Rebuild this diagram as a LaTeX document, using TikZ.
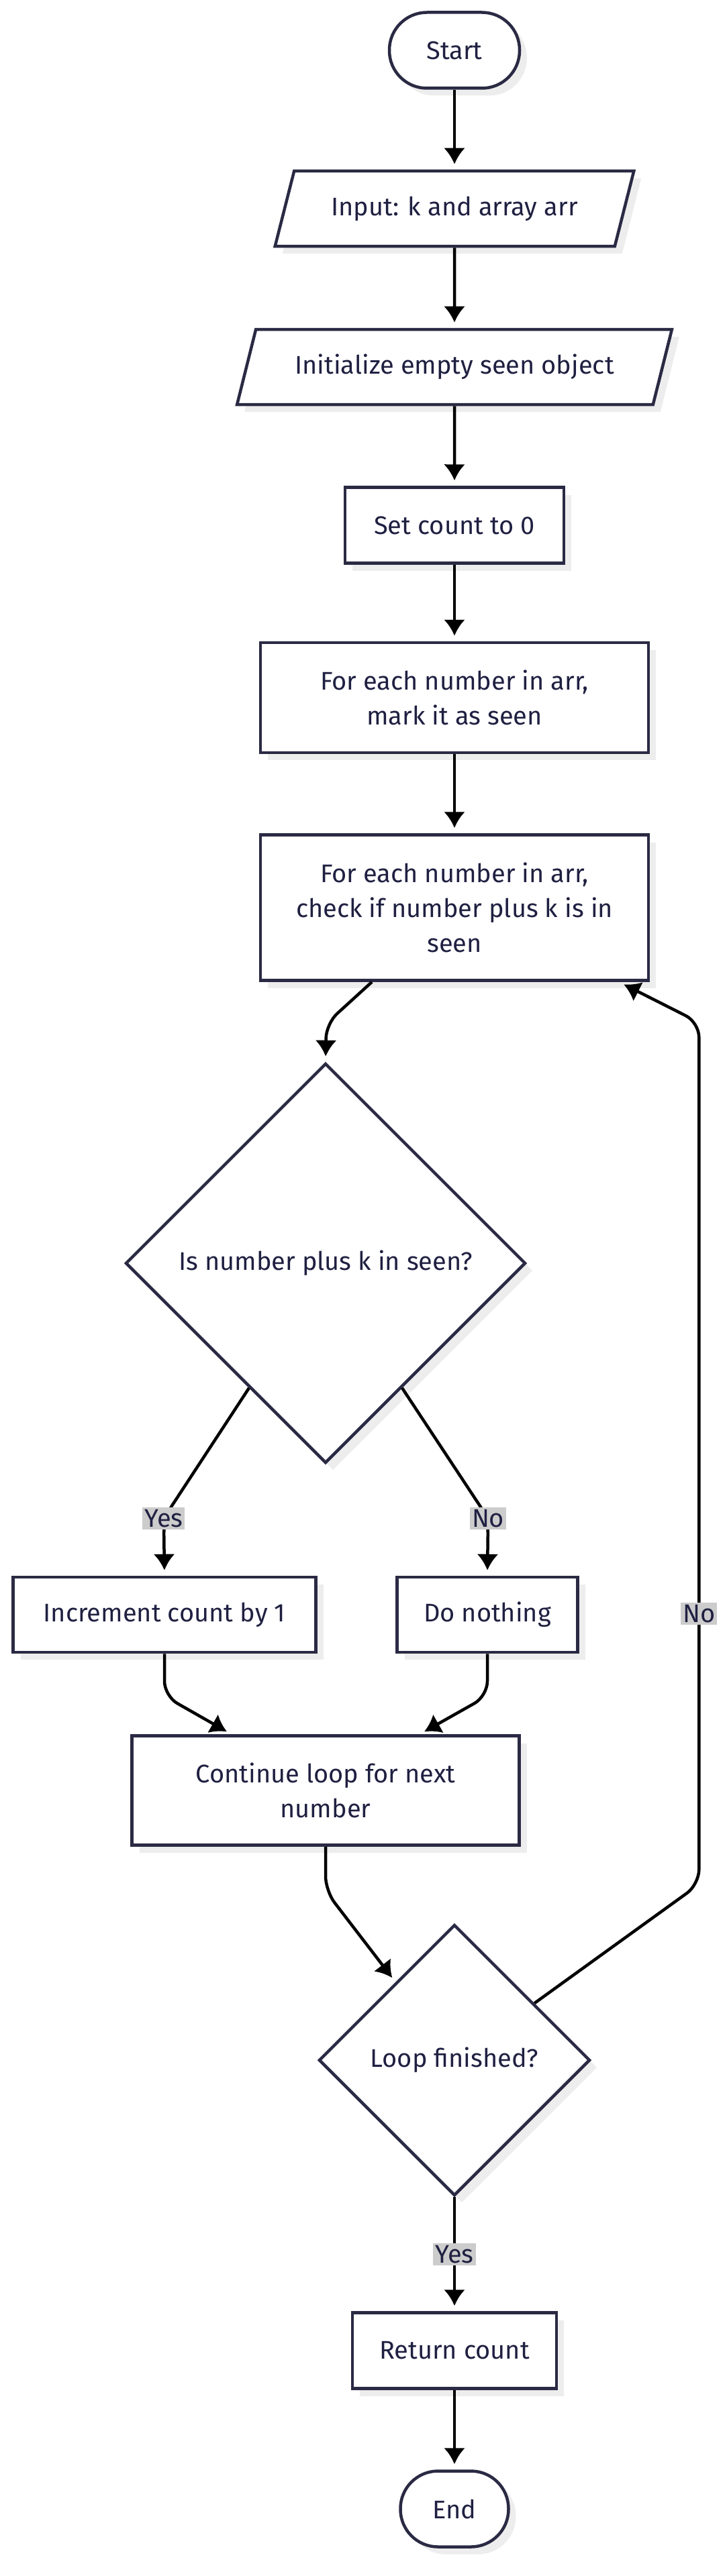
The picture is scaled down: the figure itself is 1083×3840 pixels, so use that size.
\documentclass[tikz,border=0pt]{standalone}
\usepackage{fontspec}
\setmainfont{Fira Sans}
\usepackage{xcolor}
\usetikzlibrary{arrows.meta}
\usetikzlibrary{shapes,positioning,calc,shadows}
\definecolor{nodeline}{HTML}{2A2A44}
\definecolor{nodetext}{HTML}{1F2041}
\definecolor{lblfill}{HTML}{CCCCCC}

\begin{document}
\begin{tikzpicture}[x=1pt, y=-1pt, >={Latex[length=24pt,width=32pt]},
		every node/.style={font=\fontsize{38}{52}\selectfont, text=nodetext},
		base/.style={draw=nodeline, line width=4.5pt, fill=white, align=center, inner sep=4pt,
			drop shadow={shadow xshift=11pt, shadow yshift=-11pt, fill=black!7, opacity=1}},
		terminal/.style={base, rectangle, rounded corners=56pt, minimum height=113pt},
		io/.style={base, trapezium, trapezium left angle=63.4, trapezium right angle=116.6,
			trapezium stretches=true, minimum height=112pt},
		process/.style={base, rectangle},
		decision/.style={base, diamond, aspect=1},
		flow/.style={->, line width=4.5pt, rounded corners=22pt, shorten >=8pt},
		lbl/.style={fill=lblfill, sharp corners, inner sep=3pt}]
	\useasboundingbox (0,0) rectangle (1083,3840);

	\node[terminal, minimum width=194pt] (start) at (677,75) {Start};
	\node[io, minimum width=538pt] (input) at (677,311) {Input: k and array arr};
	\node[io, minimum width=652pt] (init) at (677,547) {Initialize empty seen object};
	\node[process, minimum width=326pt, minimum height=113pt] (setcount) at (677,783) {Set count to 0};
	\node[process, minimum width=578pt, minimum height=164pt] (mark) at (677,1040) {For each number in arr,\\ mark it as seen};
	\node[process, minimum width=578pt, minimum height=217pt] (check) at (677,1353) {For each number in arr,\\ check if number plus k is in\\ seen};
	\node[decision, minimum width=596pt, minimum height=596pt] (inseen) at (485,1883) {Is number plus k in seen?};
	\node[process, minimum width=451pt, minimum height=112pt] (incr) at (245,2407) {Increment count by 1};
	\node[process, minimum width=269pt, minimum height=112pt] (nothing) at (726,2407) {Do nothing};
	\node[process, minimum width=577pt, minimum height=163pt] (next) at (485,2669) {Continue loop for next\\ number};
	\node[decision, minimum width=404pt, minimum height=404pt] (finished) at (677,3071) {Loop finished?};
	\node[process, minimum width=304pt, minimum height=113pt] (ret) at (677,3504) {Return count};
	\node[terminal, minimum width=161pt] (end) at (677,3740) {End};

	\draw[flow] (start) -- (input);
	\draw[flow] (input) -- (init);
	\draw[flow] (init) -- (setcount);
	\draw[flow] (setcount) -- (mark);
	\draw[flow] (mark) -- (check);
	\draw[flow] ([xshift=-123pt]check.south) -- ++(-68,62) -- (inseen.north);
	\draw[flow] ($(inseen.west)!0.62!(inseen.south)$) -- ++(-127,194) node[lbl] {Yes} -- (incr.north);
	\draw[flow] ($(inseen.east)!0.62!(inseen.south)$) -- ++(128,194) node[lbl] {No} -- (nothing.north);
	\draw[flow] (incr.south) -- ++(0,63) -- ([xshift=-140pt]next.north);
	\draw[flow] (nothing.south) -- ++(0,63) -- ([xshift=140pt]next.north);
	\draw[flow] (next.south) -- ++(0,66) -- ($(finished.north)!0.43!(finished.west)$);
	\draw[flow] (finished) -- node[lbl] {Yes} (ret);
	\draw[flow] (ret) -- (end);
	\draw[flow] ($(finished.north)!0.584!(finished.east)$) -- ++(245,-177)
		-- node[lbl, pos=0.314] {No} ++(0,-1285) -- ([xshift=245pt]check.south);
\end{tikzpicture}
\end{document}
